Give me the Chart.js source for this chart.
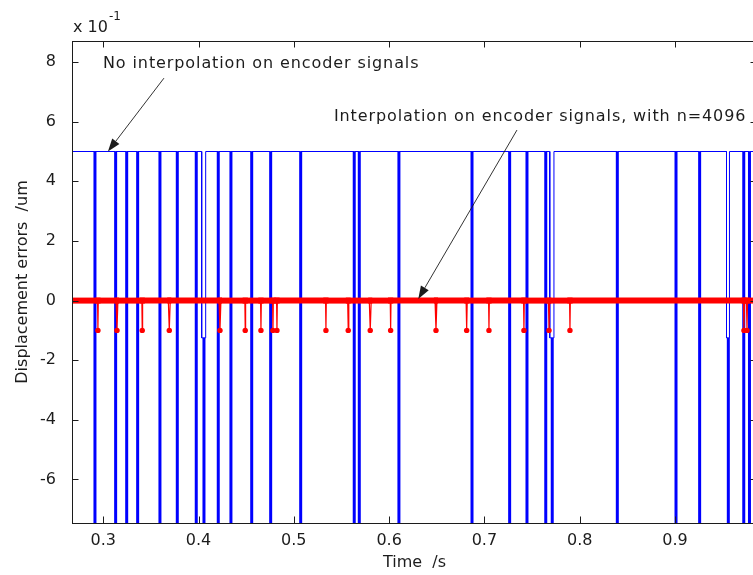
<!DOCTYPE html>
<html>
<head>
<meta charset="utf-8">
<script src="https://cdn.jsdelivr.net/npm/chart.js@4.4.1/dist/chart.umd.min.js"></script>
<style>
  html, body { margin: 0; padding: 0; background: #ffffff; overflow: hidden; }
  #wrap { width: 770px; height: 575px; }
</style>
</head>
<body>
<div id="wrap"><canvas id="c" width="770" height="575"></canvas></div>
<script>
// ---- axis windows and ticks (errors in units of 1e-1 um) ----
const timeRange  = [0.2672, 0.9861];
const errorRange = [-7.459, 8.706];
const xTickValues = [0.3, 0.4, 0.5, 0.6, 0.7, 0.8, 0.9];
const yTickValues = [-6, -4, -2, 0, 2, 4, 6, 8];

// ---- no interpolation: level +5 with sharp drops at each count error ----
const rawLevel = 5;
const rawDropLevel = -10;          // falls below the visible window
const rawDropTimes = [
  0.2913, 0.3130, 0.3246, 0.3361, 0.3595, 0.3777, 0.3976, 0.4057,
  0.4207, 0.4340, 0.4558, 0.4757, 0.5072, 0.5634, 0.5687, 0.6103,
  0.6870, 0.7265, 0.7447, 0.7644, 0.7712, 0.8395, 0.9011, 0.9259,
  0.9560, 0.9722, 0.9782
];
// short shallow notches (a drop may start from inside one)
const rawNotchStart = [0.4033, 0.7686, 0.9541];
const rawNotchEnd   = [0.4075, 0.7730, 0.9572];
const rawNotchLevel = -1.25;

// ---- interpolation n=4096: level 0 with short dips to -1 ----
const interpLevel = 0;
const interpDipLevel = -1;
const interpDipTimes = [
  0.2944, 0.3144, 0.3409, 0.3693, 0.4225, 0.4490, 0.4655, 0.4781,
  0.4823, 0.5337, 0.5571, 0.5802, 0.6016, 0.6492, 0.6814, 0.7048,
  0.7415, 0.7678, 0.7898, 0.9724, 0.9756
];
const interpDipHalfSpans = [
  0.0004, 0.0010, 0.0004, 0.0010, 0.0010, 0.0004, 0.0004, 0.0004,
  0.0004, 0.0004, 0.0006, 0.0010, 0.0004, 0.0010, 0.0006, 0.0004,
  0.0004, 0.0006, 0.0004, 0.0006, 0.0006
];

function buildRawSeries() {
  const events = [];
  rawDropTimes.forEach(t => events.push({ t, kind: 'drop' }));
  rawNotchStart.forEach((t, i) => events.push({ t, kind: 'notch', end: rawNotchEnd[i] }));
  events.sort((a, b) => a.t - b.t);
  const pts = [{ x: timeRange[0], y: rawLevel }];
  let i = 0;
  while (i < events.length) {
    const e = events[i];
    if (e.kind === 'drop') {
      pts.push({ x: e.t, y: rawLevel }, { x: e.t, y: rawDropLevel }, { x: e.t, y: rawLevel });
      i++;
    } else {
      pts.push({ x: e.t, y: rawLevel }, { x: e.t, y: rawNotchLevel });
      i++;
      while (i < events.length && events[i].t < e.end) {
        const t = events[i].t;
        pts.push({ x: t, y: rawNotchLevel }, { x: t, y: rawDropLevel }, { x: t, y: rawNotchLevel });
        i++;
      }
      pts.push({ x: e.end, y: rawNotchLevel }, { x: e.end, y: rawLevel });
    }
  }
  pts.push({ x: timeRange[1], y: rawLevel });
  return pts;
}

function buildInterpSeries() {
  const pts = [{ x: timeRange[0], y: interpLevel }];
  interpDipTimes.forEach((t, i) => {
    const h = interpDipHalfSpans[i];
    pts.push({ x: t - h, y: interpLevel }, { x: t, y: interpDipLevel }, { x: t + h, y: interpLevel });
  });
  pts.push({ x: timeRange[1], y: interpLevel });
  return pts;
}

const FONT = '"DejaVu Sans", "Liberation Sans", sans-serif';
const INK = '#1c1c1c';

// notes with arrows, placed in data coordinates
const notes = [
  { text: 'No interpolation on encoder signals', x: 0.2997, y: 7.8,
    from: [0.3637, 7.46], to: [0.3049, 5.0] },
  { text: 'Interpolation on encoder signals, with n=4096', x: 0.5421, y: 6.02,
    from: [0.7342, 5.72], to: [0.6306, 0.05] }
];

// frame, inward tick marks, exponent label and notes
const axesDecor = {
  id: 'axesDecor',
  afterDatasetsDraw(chart) {
    const { ctx, chartArea: a, scales } = chart;
    ctx.save();
    ctx.strokeStyle = INK;
    ctx.lineWidth = 1;
    const tl = 6.5;
    ctx.beginPath();
    xTickValues.forEach(v => {
      const px = Math.round(scales.x.getPixelForValue(v)) + 0.5;
      ctx.moveTo(px, a.bottom); ctx.lineTo(px, a.bottom - tl);
      ctx.moveTo(px, a.top); ctx.lineTo(px, a.top + tl);
    });
    yTickValues.forEach(v => {
      const py = Math.round(scales.y.getPixelForValue(v)) + 0.5;
      ctx.moveTo(a.left, py); ctx.lineTo(a.left + tl, py);
      ctx.moveTo(a.right, py); ctx.lineTo(a.right - tl, py);
    });
    ctx.stroke();
    ctx.strokeRect(Math.round(a.left) + 0.5, Math.round(a.top) + 0.5,
                   Math.round(a.right - a.left), Math.round(a.bottom - a.top));
    ctx.restore();
  },
  afterDraw(chart) {
    const { ctx, chartArea: a, scales } = chart;
    ctx.save();
    ctx.fillStyle = INK;
    ctx.textBaseline = 'alphabetic';
    ctx.textAlign = 'left';
    // exponent of the error axis
    ctx.font = '16px ' + FONT;
    ctx.fillText('x 10', a.left + 1, a.top - 9);
    const w = ctx.measureText('x 10').width;
    ctx.font = '12px ' + FONT;
    ctx.fillText('-1', a.left + 2 + w, a.top - 21);

    ctx.font = '16px ' + FONT;
    if ('letterSpacing' in ctx) ctx.letterSpacing = '0.9px';
    notes.forEach(n => {
      ctx.fillText(n.text, scales.x.getPixelForValue(n.x), scales.y.getPixelForValue(n.y));
      const x0 = scales.x.getPixelForValue(n.from[0]), y0 = scales.y.getPixelForValue(n.from[1]);
      const x1 = scales.x.getPixelForValue(n.to[0]),   y1 = scales.y.getPixelForValue(n.to[1]);
      const ang = Math.atan2(y1 - y0, x1 - x0);
      const hl = 13, hw = 4.5;
      const bx = x1 - hl * Math.cos(ang), by = y1 - hl * Math.sin(ang);
      ctx.strokeStyle = INK;
      ctx.lineWidth = 0.9;
      ctx.beginPath(); ctx.moveTo(x0, y0); ctx.lineTo(bx, by); ctx.stroke();
      ctx.beginPath();
      ctx.moveTo(x1, y1);
      ctx.lineTo(bx + hw * Math.sin(ang), by - hw * Math.cos(ang));
      ctx.lineTo(bx - hw * Math.sin(ang), by + hw * Math.cos(ang));
      ctx.closePath();
      ctx.fill();
    });
    ctx.restore();
  }
};

const isDrop = c => c.p0.parsed.y === rawDropLevel || c.p1.parsed.y === rawDropLevel;
const isFlat0 = c => c.p0.parsed.y === interpLevel && c.p1.parsed.y === interpLevel;

new Chart(document.getElementById('c'), {
  type: 'line',
  data: {
    datasets: [
      {
        label: 'Interpolation on encoder signals, with n=4096',
        data: buildInterpSeries(),
        borderColor: '#ff0000',
        backgroundColor: '#ff0000',
        borderWidth: 1.2,
        borderCapStyle: 'square',
        pointRadius: c => (c.raw && c.raw.y === interpDipLevel ? 2.7 : 0),
        pointBorderWidth: 0,
        pointBackgroundColor: '#ff0000',
        tension: 0,
        clip: 0,
        segment: {
          borderWidth: c => (isFlat0(c) ? 6 : 1.2)
        }
      },
      {
        label: 'No interpolation on encoder signals',
        data: buildRawSeries(),
        borderColor: '#0000ff',
        borderWidth: 1,
        pointRadius: 0,
        tension: 0,
        clip: 0,
        segment: {
          borderWidth: c => (isDrop(c) ? 3 : 1)
        }
      }
    ]
  },
  options: {
    responsive: false,
    animation: false,
    events: [],
    layout: { padding: { left: 0, top: 41, right: 13, bottom: 0 } },
    plugins: { legend: { display: false }, tooltip: { enabled: false } },
    scales: {
      x: {
        type: 'linear',
        min: timeRange[0],
        max: timeRange[1],
        grid: { display: false },
        border: { display: false },
        afterBuildTicks: s => { s.ticks = xTickValues.map(v => ({ value: v })); },
        afterFit: s => { s.height = 52; },
        ticks: {
          padding: 0,
          color: INK,
          font: { family: FONT, size: 16 },
          callback: v => String(Math.round(v * 10) / 10)
        },
        title: {
          display: true,
          text: 'Time  /s',
          color: INK,
          font: { family: FONT, size: 16 },
          padding: { top: 0, bottom: 3 }
        }
      },
      y: {
        type: 'linear',
        min: errorRange[0],
        max: errorRange[1],
        grid: { display: false },
        border: { display: false },
        afterBuildTicks: s => { s.ticks = yTickValues.map(v => ({ value: v })); },
        afterFit: s => { s.width = 72; },
        ticks: {
          padding: 8,
          color: INK,
          font: { family: FONT, size: 16 },
          callback: v => String(v)
        },
        title: {
          display: true,
          text: 'Displacement errors  /um',
          color: INK,
          font: { family: FONT, size: 16 },
          padding: { top: 13, bottom: 0 }
        }
      }
    }
  },
  plugins: [axesDecor]
});
</script>
</body>
</html>
